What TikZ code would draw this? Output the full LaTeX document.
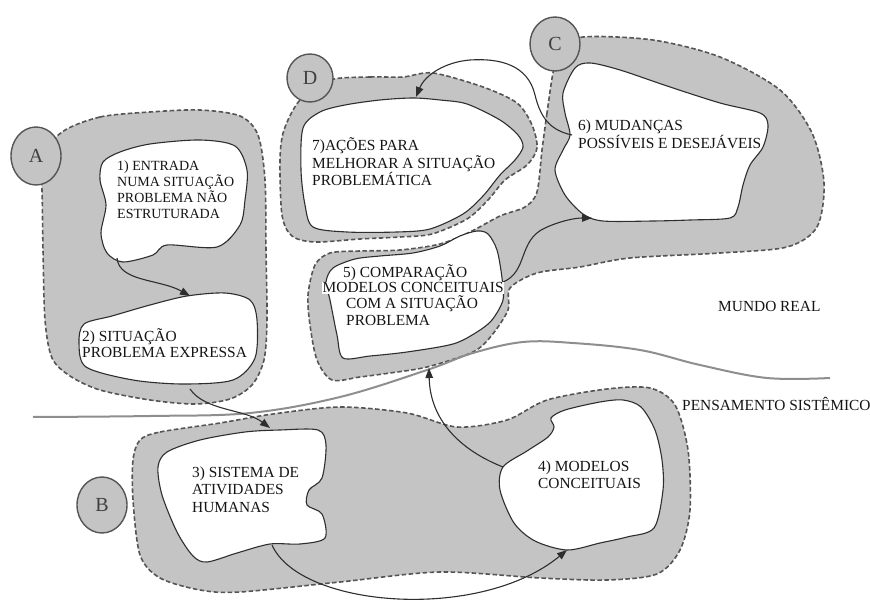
\documentclass[tikz,border=0pt]{standalone}
\usepackage{fontspec}
\setmainfont{Liberation Serif}
\usetikzlibrary{arrows.meta,shapes.geometric}
\definecolor{shade}{HTML}{C4C4C4}
\definecolor{dashc}{HTML}{555555}
\definecolor{edge}{HTML}{2E2E2E}
\definecolor{divc}{HTML}{8E8E8E}
\definecolor{ringc}{HTML}{555555}
\definecolor{letterc}{HTML}{404040}
\definecolor{ink}{HTML}{141414}

\begin{document}
\begin{tikzpicture}[x=1pt,y=-1pt,
  region/.style={fill=shade, draw=dashc, line width=1.6pt, dash pattern=on 4.5pt off 2.5pt},
  blob/.style={fill=white, draw=edge, line width=1.1pt},
  flow/.style={draw=edge, line width=1.1pt, -{Triangle[length=10pt,width=7.5pt]}},
  divider/.style={draw=divc, line width=2pt},
  tag/.style={ellipse, fill=shade, draw=ringc, line width=1.4pt, inner sep=0pt,
    text=letterc, font=\fontsize{20}{20}\selectfont},
  label/.style={anchor=base west, align=left, inner sep=0pt, text=ink},
]
\useasboundingbox (0,0) rectangle (870,601);

% grey zones with dashed borders
\path[region] plot[smooth cycle, tension=0.5] coordinates {
  (62,132) (100,117) (150,112) (200,110) (240,116) (258,135) (265,180) (266,250)
  (267,320) (264,360) (252,385) (230,399) (195,404) (150,400) (100,390) (70,376)
  (52,358) (45,320) (43,250) (42,190) (40,160)};
\path[region] plot[smooth cycle, tension=0.5] coordinates {
  (330,80) (370,77) (403,77) (433,73) (483,87) (517,103) (532,125) (537,148)
  (527,165) (505,180) (488,200) (467,219) (432,234) (400,237) (360,239) (315,242)
  (292,236) (282,215) (280,160) (284,130) (300,100)};
\path[region] plot[smooth cycle, tension=0.5] coordinates {
  (553,73) (547,113) (542,150) (537,192) (525,207) (500,216) (470,232) (440,244)
  (400,250) (360,251) (330,253) (315,265) (308,295) (310,325) (317,360) (332,380)
  (360,377) (390,373) (427,367) (473,352) (492,335) (508,310) (510,288) (537,273)
  (580,267) (630,258) (720,253) (787,247) (817,227) (824,183) (812,133) (780,90)
  (720,57) (653,40) (583,37) (560,50)};
\path[region] plot[smooth cycle, tension=0.5] coordinates {
  (140,440) (160,432) (220,423) (273,414) (340,407) (407,413) (457,427) (507,420)
  (547,400) (607,389) (650,388) (675,405) (688,450) (690,510) (680,550) (657,574)
  (607,580) (540,578) (440,572) (340,582) (240,592) (200,590) (160,578) (140,555)
  (133,500) (133,460)};

% white stages
\path[blob] plot[smooth cycle, tension=0.5] coordinates {
  (103,162) (120,152) (150,144) (200,140) (235,146) (247,170) (245,200) (240,225)
  (217,247) (167,245) (153,255) (123,262) (107,253) (101,233) (106,205) (100,180)};
\path[blob] plot[smooth cycle, tension=0.5] coordinates {
  (187,296) (150,305) (112,316) (84,324) (79,343) (86,367) (133,380) (183,384)
  (233,380) (255,358) (257,320) (250,300) (225,293)};
\path[blob] plot[smooth cycle, tension=0.5] coordinates {
  (167,452) (200,440) (245,432) (280,430) (318,430) (326,445) (322,478) (309,490)
  (307,505) (322,514) (325,538) (300,544) (270,544) (237,553) (207,562) (193,556)
  (177,532) (162,495) (158,467)};
\path[blob] plot[smooth cycle, tension=0.5] coordinates {
  (503,467) (527,451) (548,437) (554,427) (551,418) (565,410) (600,402) (623,400)
  (641,407) (655,430) (662,460) (663,490) (654,528) (627,537) (600,543) (567,550)
  (535,541) (514,523) (500,490)};
\path[blob] plot[smooth cycle, tension=0.5] coordinates {
  (333,268) (355,259) (380,256) (413,253) (440,246) (460,236) (477,231) (488,234)
  (497,250) (502,278) (503,300) (492,320) (477,332) (453,344) (407,352) (370,356)
  (343,358) (337,335) (330,300) (326,282)};
\path[blob] plot[smooth cycle, tension=0.5] coordinates {
  (575,68) (590,63) (620,70) (670,87) (720,103) (760,113) (768,125) (763,147)
  (750,165) (743,185) (738,207) (730,218) (690,220) (653,221) (603,221) (583,214)
  (565,195) (555,170) (563,150) (570,135) (565,113) (563,93)};
\path[blob] plot[smooth cycle, tension=0.5] coordinates {
  (303,128) (320,112) (345,105) (380,100) (413,98) (440,100) (467,104) (500,120)
  (518,135) (523,147) (515,160) (500,175) (483,196) (463,214) (430,229) (397,232)
  (347,232) (313,227) (305,205) (301,170)};

% boundary between real world and systems thinking
\draw[divider] plot[smooth, tension=0.6] coordinates {
  (33,417) (150,416) (250,413) (340,397) (427,370) (473,353) (523,342) (573,343)
  (640,350) (700,365) (767,378) (830,378)};

% connector ends
\coordinate (o1) at (117,258); \coordinate (i2) at (190,296);
\coordinate (o2) at (190,389); \coordinate (i3) at (270,428);
\coordinate (o3) at (272,545); \coordinate (i4) at (567,550);
\coordinate (o4) at (503,467); \coordinate (i5) at (429,368);
\coordinate (o5) at (503,282); \coordinate (i6) at (592,218);
\coordinate (o6) at (572,135); \coordinate (i7) at (416,97);

\draw[flow] (o1) .. controls (119,282) and (160,279) .. (i2);
\draw[flow] (o2) .. controls (205,411) and (245,409) .. (i3);
\draw[flow] (o3) .. controls (300,608) and (480,622) .. (i4);
\draw[flow] (o4) .. controls (460,450) and (430,420) .. (i5);
\draw[flow] (o5) .. controls (528,272) and (518,240) .. (545,228)
  .. controls (560,221) and (575,218) .. (i6);
\draw[flow] (o6) .. controls (548,130) and (540,115) .. (535,95)
  .. controls (528,65) and (500,58) .. (470,60)
  .. controls (445,62) and (425,75) .. (i7);

% letter tags
\node[tag, minimum width=50pt, minimum height=58pt] (tagA) at (36,156) {A};
\node[tag, minimum width=50pt, minimum height=56pt] (tagB) at (102,505) {B};
\node[tag, minimum width=50pt, minimum height=54pt] (tagC) at (555,44) {C};
\node[tag, minimum width=46pt, minimum height=48pt] (tagD) at (310,78) {D};

% stage texts (anchored at the baseline of their last line)
\node[label, font=\fontsize{14}{16}\selectfont] (t1) at (117,219)
  {1) ENTRADA\\NUMA SITUAÇÃO\\PROBLEMA NÃO\\ESTRUTURADA};
\node[label, font=\fontsize{15.4}{16}\selectfont] (t2) at (82,358)
  {2) SITUAÇÃO\\PROBLEMA EXPRESSA};
\node[label, font=\fontsize{15.4}{17.5}\selectfont] (t3) at (192,512)
  {3) SISTEMA DE\\ATIVIDADES\\HUMANAS};
\node[label, font=\fontsize{15.4}{17}\selectfont] (t4) at (538,488)
  {4) MODELOS\\CONCEITUAIS};
\node[label, font=\fontsize{15.4}{16}\selectfont] (t5a) at (343,278) {5) COMPARAÇÃO};
\node[label, font=\fontsize{15.4}{16}\selectfont, fill=white, inner sep=0.5pt] (t5b) at (322,293)
  {MODELOS CONCEITUAIS};
\node[label, font=\fontsize{15.4}{16.5}\selectfont] (t5c) at (346,325.5)
  {COM A SITUAÇÃO\\PROBLEMA};
\node[label, font=\fontsize{15.4}{17.5}\selectfont] (t6) at (578,148.5)
  {6) MUDANÇAS\\POSSÍVEIS E DESEJÁVEIS};
\node[label, font=\fontsize{15.4}{17.5}\selectfont] (t7) at (312,186)
  {7)AÇÕES PARA\\MELHORAR A SITUAÇÃO\\PROBLEMÁTICA};

\node[label, font=\fontsize{15.4}{17}\selectfont] (real) at (718,312) {MUNDO REAL};
\node[label, font=\fontsize{15.4}{17}\selectfont] (sist) at (682,410) {PENSAMENTO SISTÊMICO};
\end{tikzpicture}
\end{document}
